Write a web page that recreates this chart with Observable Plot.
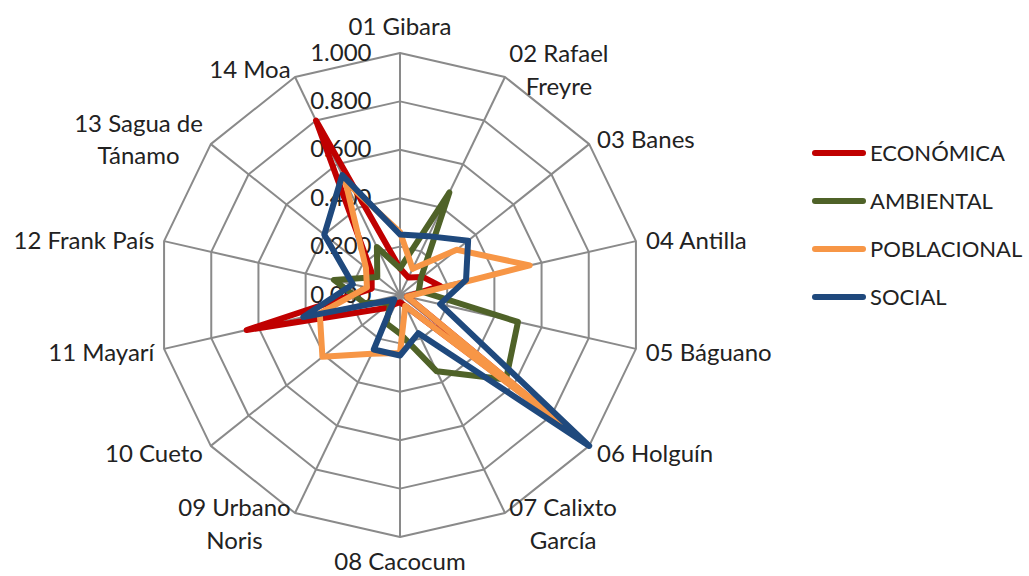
<!DOCTYPE html>
<html>
<head>
<meta charset="utf-8">
<script src="https://cdn.jsdelivr.net/npm/d3@7"></script>
<script src="https://cdn.jsdelivr.net/npm/@observablehq/plot@0.6"></script>
<style>
  html, body { margin: 0; padding: 0; background: #fff; }
  #wrap { position: relative; width: 1029px; height: 576px; overflow: hidden; }
  #legend { position: absolute; left: 0; top: 0; font-family: Lato, "Open Sans", sans-serif; font-size: 22px; color: #222; }
  .item { position: absolute; left: 812px; height: 24px; display: flex; align-items: center; white-space: nowrap; }
  .swatch { width: 54px; height: 6px; border-radius: 3px; margin-right: 4px; }
</style>
</head>
<body>
<div id="wrap"><div id="legend"></div></div>
<script>
// ---- data ----
const categories = ["01 Gibara", "02 Rafael\nFreyre", "03 Banes", "04 Antilla", "05 Báguano", "06 Holguín",
  "07 Calixto\nGarcía", "08 Cacocum", "09 Urbano\nNoris", "10 Cueto", "11 Mayarí", "12 Frank País",
  "13 Sagua de\nTánamo", "14 Moa"];
const seriesNames = ["ECONÓMICA", "AMBIENTAL", "POBLACIONAL", "SOCIAL"];
const economica   = [0.11, 0.08, 0.12, 0.17, 0.03, 0.78, 0.05, 0.03, 0.04, 0.09, 0.65, 0.12, 0.15, 0.80];
const ambiental   = [0.11, 0.47, 0.11, 0.08, 0.50, 0.56, 0.35, 0.16, 0.13, 0.05, 0.15, 0.28, 0.12, 0.22];
const poblacional = [0.26, 0.12, 0.30, 0.55, 0.03, 0.85, 0.05, 0.24, 0.27, 0.41, 0.34, 0.14, 0.18, 0.52];
const social      = [0.25, 0.27, 0.36, 0.28, 0.17, 1.00, 0.175, 0.25, 0.25, 0.03, 0.41, 0.20, 0.40, 0.55];
const tickValues = [0, 0.2, 0.4, 0.6, 0.8, 1.0];
const tickLabels = ["0.000", "0.200", "0.400", "0.600", "0.800", "1.000"];
const seriesColors = ["#C00000", "#4F6228", "#F79646", "#1F497D"];

// ---- layout ----
const W = 1029, H = 576;
const cx = 399.5, cy = 294.5, R = 242;
const FONT = "Lato, 'Open Sans', sans-serif";
const labelSize = 24;
const n = categories.length;
const ang = i => i * 2 * Math.PI / n;

const seriesValues = [economica, ambiental, poblacional, social];
const seriesData = [];
seriesValues.forEach((vals, s) => vals.forEach((v, i) => seriesData.push({
  series: seriesNames[s], cat: categories[i], x: v * Math.sin(ang(i)), y: v * Math.cos(ang(i))
})));

const ringData = [];
tickValues.filter(t => t > 0).forEach(t => categories.forEach((c, i) =>
  ringData.push({ring: t, x: t * Math.sin(ang(i)), y: t * Math.cos(ang(i))})));

const spokeData = categories.map((c, i) => ({x1: 0, y1: 0, x2: Math.sin(ang(i)), y2: Math.cos(ang(i))}));

const tickData = tickValues.map((t, k) => ({x: 0, y: t, label: tickLabels[k]}));

// category labels, positioned by rule outside each vertex
const ctx = document.createElement("canvas").getContext("2d");
ctx.font = `${labelSize}px ${FONT}`;
const labelData = categories.map((c, i) => {
  const s = Math.sin(ang(i)), co = Math.cos(ang(i));
  const w = Math.max(...c.split("\n").map(l => ctx.measureText(l).width));
  const gap = 10;
  let px = s * gap, py = co * gap; // px to the right, py upward
  if (Math.abs(s) < 0.1) {
    py = co * (co > 0 ? 28 : 23);
  } else {
    px += Math.sign(s) * w / 2;
  }
  return {label: c, x: s + px / R, y: co + py / R};
});

const plot = Plot.plot({
  width: W, height: H,
  marginLeft: cx - R, marginRight: W - (cx + R),
  marginTop: cy - R, marginBottom: H - (cy + R),
  x: {domain: [-1, 1], axis: null},
  y: {domain: [-1, 1], axis: null},
  color: {domain: seriesNames, range: seriesColors},
  style: {fontFamily: FONT, background: "transparent", overflow: "visible"},
  marks: [
    Plot.link(spokeData, {x1: "x1", y1: "y1", x2: "x2", y2: "y2", stroke: "#8a8a8a", strokeWidth: 2}),
    Plot.line(ringData, {x: "x", y: "y", z: "ring", curve: "linear-closed", stroke: "#8a8a8a", strokeWidth: 2}),
    Plot.text(tickData, {x: "x", y: "y", text: "label", textAnchor: "end", dx: -28.5, fontSize: 24, fill: "#222"}),
    Plot.line(seriesData, {x: "x", y: "y", z: "series", stroke: "series", curve: "linear-closed",
      strokeWidth: 6, strokeLinejoin: "round", strokeLinecap: "round"}),
    Plot.text(labelData, {x: "x", y: "y", text: "label", textAnchor: "middle", lineHeight: 1.35,
      fontSize: labelSize, fill: "#222"})
  ]
});
document.getElementById("wrap").prepend(plot);

// legend
const legendTop = [152.7, 200.7, 248.5, 296.5];
const legend = document.getElementById("legend");
seriesNames.forEach((name, k) => {
  const item = document.createElement("div");
  item.className = "item";
  item.style.top = (legendTop[k] - 12) + "px";
  const sw = document.createElement("div");
  sw.className = "swatch";
  sw.style.background = seriesColors[k];
  const tx = document.createElement("span");
  tx.textContent = name;
  item.append(sw, tx);
  legend.append(item);
});
</script>
</body>
</html>
